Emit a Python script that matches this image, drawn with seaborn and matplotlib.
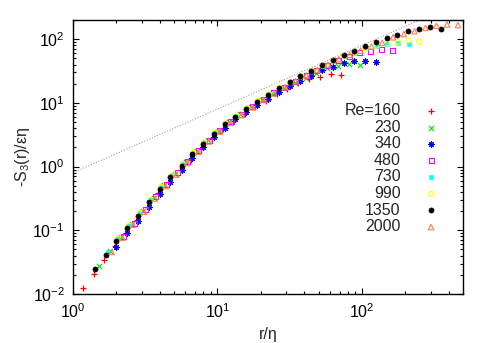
import matplotlib
matplotlib.use("Agg")
import matplotlib.pyplot as plt
import seaborn as sns
import pandas as pd
from matplotlib.ticker import LogLocator, NullFormatter

# ---------------- data ----------------
re_labels = ["Re=160", "230", "340", "480", "730", "990", "1350", "2000"]

r_160 = [1.17, 1.39, 1.65, 1.96, 2.33, 2.76, 3.28, 3.89, 4.62, 5.49, 6.52, 7.74, 9.18,
         10.9, 12.9, 15.4, 18.2, 21.7, 25.7, 30.5, 36.2, 43.0, 51.1, 60.6, 71.9]
y_160 = [0.0126, 0.0204, 0.0347, 0.0569, 0.0912, 0.145, 0.234, 0.380, 0.575, 0.871, 1.29,
         1.91, 2.75, 3.89, 5.25, 6.76, 8.51, 10.7, 13.8, 16.8, 20.4, 23.7, 25.7, 27.9, 27.5]

r_230 = [1.52, 1.80, 2.14, 2.55, 3.03, 3.61, 4.29, 5.10, 6.06, 7.21, 8.57, 10.2, 12.1,
         14.4, 17.1, 20.4, 24.2, 28.8, 34.2, 40.7, 48.4, 57.6, 68.5, 81.4, 96.8]
y_230 = [0.0275, 0.0479, 0.0776, 0.124, 0.200, 0.324, 0.513, 0.776, 1.175, 1.74, 2.57,
         3.63, 5.01, 6.61, 8.51, 11.0, 13.8, 17.0, 20.4, 24.5, 29.5, 34.7, 38.5, 40.7, 38.9]

r_340 = [2.00, 2.37, 2.82, 3.34, 3.98, 4.72, 5.65, 6.70, 7.93, 9.42, 11.2, 13.3, 15.8,
         18.8, 22.4, 26.5, 31.6, 37.5, 44.7, 53.0, 62.8, 74.8, 88.5, 105, 125]
y_340 = [0.0550, 0.0891, 0.141, 0.229, 0.372, 0.575, 0.891, 1.35, 2.00, 2.88, 4.07, 5.50,
         7.08, 9.33, 11.7, 14.8, 18.2, 22.4, 26.9, 32.4, 37.2, 41.7, 44.7, 46.2, 43.7]

r_480 = [2.23, 2.65, 3.15, 3.73, 4.43, 5.26, 6.24, 7.41, 8.79, 10.4, 12.4, 14.7, 17.4,
         20.7, 24.6, 29.2, 34.6, 41.1, 48.8, 57.9, 68.7, 81.5, 96.7, 115, 136, 162]
y_480 = [0.0813, 0.129, 0.209, 0.339, 0.525, 0.794, 1.20, 1.78, 2.60, 3.72, 5.07, 6.68,
         8.71, 11.2, 14.3, 17.6, 21.9, 26.6, 32.4, 38.9, 46.2, 53.7, 61.1, 64.9, 69.0, 66.5]

r_730 = [1.74, 2.06, 2.45, 2.90, 3.44, 4.09, 4.85, 5.76, 6.83, 8.11, 9.63, 11.4, 13.6,
         16.1, 19.1, 22.7, 26.9, 31.9, 37.9, 45.0, 53.4, 63.4, 75.2, 89.3, 106, 126, 149,
         177, 210]
y_730 = [0.0457, 0.0750, 0.119, 0.188, 0.305, 0.484, 0.733, 1.11, 1.64, 2.40, 3.43, 4.73,
         6.31, 8.22, 10.7, 13.6, 17.2, 20.9, 26.0, 31.3, 38.0, 45.2, 53.7, 61.7, 71.6, 77.6,
         84.1, 87.1, 84.1]

r_990 = [2.06, 2.45, 2.90, 3.44, 4.09, 4.85, 5.76, 6.83, 8.11, 9.63, 11.4, 13.6, 16.1,
         19.1, 22.7, 26.9, 31.9, 37.9, 45.0, 53.4, 63.4, 75.2, 89.3, 106, 126, 149, 177,
         210, 250]
y_990 = [0.0745, 0.118, 0.187, 0.303, 0.480, 0.728, 1.10, 1.63, 2.39, 3.42, 4.73, 6.33,
         8.24, 10.8, 13.7, 17.3, 21.0, 26.2, 31.5, 38.5, 46.2, 55.0, 63.1, 72.4, 79.4, 86.1,
         91.2, 95.5, 91.0]

r_1350 = [1.42, 1.68, 2.00, 2.37, 2.82, 3.34, 3.98, 4.72, 5.65, 6.70, 7.93, 9.42, 11.2,
          13.3, 15.8, 18.8, 22.4, 26.5, 31.6, 37.5, 44.7, 53.0, 62.8, 74.8, 88.5, 105, 125,
          149, 176, 208, 248, 296, 352]
y_1350 = [0.0245, 0.0407, 0.0676, 0.107, 0.170, 0.275, 0.447, 0.676, 1.04, 1.55, 2.26,
          3.28, 4.58, 6.11, 7.98, 10.5, 13.5, 17.0, 20.9, 26.1, 31.6, 38.8, 46.5, 56.2,
          64.9, 76.9, 90.8, 105, 118, 133, 143, 154, 143]

r_2000 = [1.85, 2.20, 2.61, 3.10, 3.69, 4.38, 5.20, 6.18, 7.35, 8.73, 10.4, 12.3, 14.7,
          17.4, 20.7, 24.6, 29.2, 34.7, 41.2, 49.0, 58.2, 69.2, 82.2, 97.7, 116, 138, 164,
          195, 231, 275, 327, 388, 461]
y_2000 = [0.0457, 0.0759, 0.122, 0.195, 0.316, 0.495, 0.750, 1.135, 1.70, 2.48, 3.55,
          4.84, 6.46, 8.51, 11.1, 14.1, 17.6, 21.9, 26.9, 32.7, 39.8, 48.4, 56.9, 66.1,
          76.7, 87.5, 107, 120, 133, 150, 162, 170, 166]

# 4/5-law reference line  -S3/(eps eta) = 0.8 r/eta  (end points)
law_r = [1.0, 500.0]
law_y = [0.8, 400.0]

# ---------------- styling ----------------
sns.set_theme(style="ticks")
plt.rcParams["font.family"] = ["Liberation Sans", "DejaVu Sans"]
plt.rcParams["mathtext.fontset"] = "custom"
plt.rcParams["mathtext.rm"] = "Liberation Sans"
plt.rcParams["mathtext.it"] = "Liberation Sans:italic"
plt.rcParams["mathtext.default"] = "regular"
plt.rcParams["axes.linewidth"] = 1.0
plt.rcParams["axes.edgecolor"] = "black"

FS = 11.5

series = [
    (r_160, y_160, "+", "#ff0000", False, 24, 0.9),
    (r_230, y_230, "x", "#00e000", False, 14, 0.8),
    (r_340, y_340, (8, 2, 0), "#0000ff", False, 16, 0.8),
    (r_480, y_480, "s", "#ff00ff", True, 13, 0.8),
    (r_730, y_730, "s", "#00ffff", "filled", 12, 0.4),
    (r_990, y_990, "o", "#ffff00", True, 14, 0.8),
    (r_1350, y_1350, "o", "#000000", "filled", 14, 0.4),
    (r_2000, y_2000, "^", "#ff7f50", True, 15, 0.8),
]

fig = plt.figure(figsize=(4.91, 3.43), dpi=100)
ax = fig.add_axes([73 / 491, 49 / 343, 390 / 491, 274 / 343])

sns.lineplot(x=law_r, y=law_y, ax=ax, color="#a0a0a0", linestyle=(0, (1, 1.5)),
             linewidth=0.8, legend=False)

for (rv, yv, mk, col, kind, sz, lw), lab in zip(series, re_labels):
    df = pd.DataFrame({"r": rv, "y": yv})
    if kind is False:
        sns.scatterplot(data=df, x="r", y="y", ax=ax, marker=mk, color=col,
                        s=sz, linewidth=lw, label=lab)
    elif kind is True:
        sns.scatterplot(data=df, x="r", y="y", ax=ax, marker=mk, s=sz,
                        facecolors="none", edgecolor=col, linewidth=lw, label=lab)
    else:
        sns.scatterplot(data=df, x="r", y="y", ax=ax, marker=mk, s=sz,
                        color=col, edgecolor=col, linewidth=lw, label=lab)

ax.set_xscale("log")
ax.set_yscale("log")
ax.set_xlim(1, 500)
ax.set_ylim(0.01, 200)

ax.xaxis.set_major_locator(LogLocator(base=10, numticks=10))
ax.yaxis.set_major_locator(LogLocator(base=10, numticks=10))
ax.xaxis.set_minor_locator(LogLocator(base=10, subs=range(2, 10), numticks=20))
ax.yaxis.set_minor_locator(LogLocator(base=10, subs=range(2, 10), numticks=20))
ax.xaxis.set_minor_formatter(NullFormatter())
ax.yaxis.set_minor_formatter(NullFormatter())

ax.tick_params(which="both", direction="in", top=True, right=True, colors="black",
               labelsize=FS)
ax.tick_params(which="major", length=4.5, width=0.8, pad=6)
ax.tick_params(which="minor", length=2.5, width=0.8)

ax.set_xlabel("r/η", fontsize=FS, labelpad=4)
ax.set_ylabel("-S$_3$(r)/εη", fontsize=FS, labelpad=0)

for sp in ax.spines.values():
    sp.set_visible(True)
    sp.set_color("black")

leg = ax.legend(loc="upper right", bbox_to_anchor=(0.955, 0.72), borderaxespad=0,
                frameon=False, markerfirst=False, fontsize=FS, handlelength=1.0,
                handletextpad=1.4, labelspacing=0.1, borderpad=0.4)

fig.savefig("out.png", dpi=100)
